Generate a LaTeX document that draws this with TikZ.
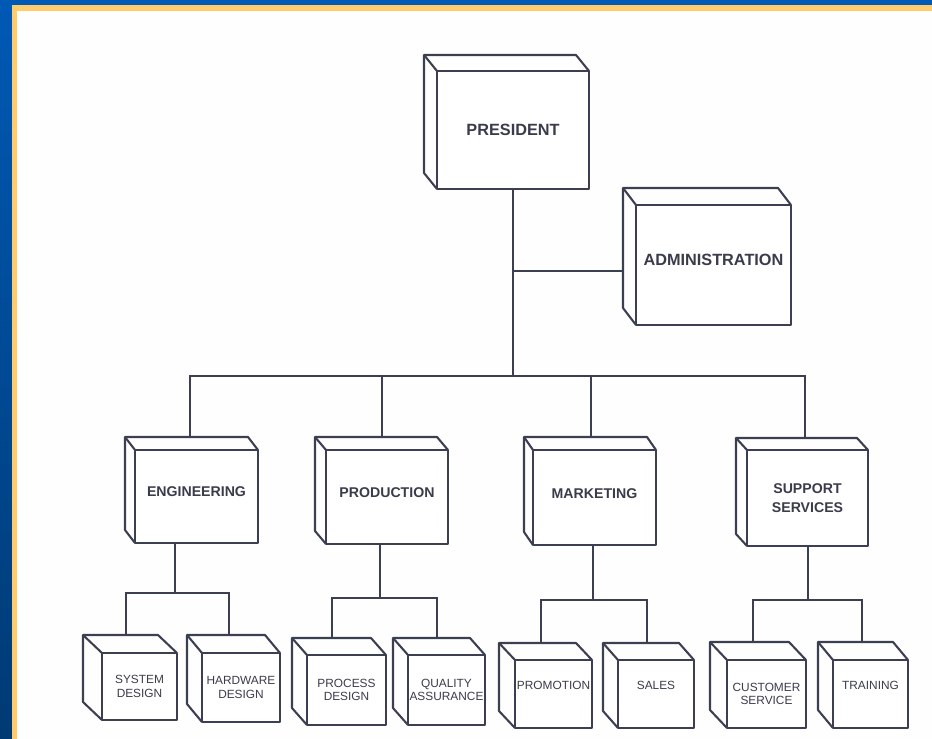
\documentclass[tikz,border=0pt]{standalone}
\usepackage{fontspec}
\setmainfont{Liberation Sans}
\usetikzlibrary{calc}
\definecolor{ink}{HTML}{3C3F52}
\definecolor{txt}{HTML}{3A3C4C}
\definecolor{bluetop}{HTML}{0059B5}
\definecolor{bluebot}{HTML}{003A73}
\definecolor{gold}{HTML}{FFCB6B}
\tikzset{
  boxline/.style={draw=ink, line width=1.55pt, line join=round},
  front/.style={boxline, fill=white, rectangle, inner sep=0pt, outer sep=0pt, align=center, text=txt},
  bigbox/.style={front, font=\bfseries\fontsize{12.2}{14}\selectfont},
  midbox/.style={front, font=\bfseries\fontsize{10.6}{12}\selectfont},
  smallbox/.style={front, font=\fontsize{8.9}{10}\selectfont},
  liftup/.style={text depth=#1},
  wire/.style={draw=ink, line width=1.55pt, line join=miter},
}
\newcommand\orgcube[9]{%
  \node[#8, minimum width={(#4-#2)*0.75pt}, minimum height={(#5-#3)*0.75pt}] (#1) at ({(#2+#4)/2},{(#3+#5)/2}) {#9};
  \draw[boxline] (#1.south west) -- ++(-#6,-#7) |- ($(#1.north east)+(-#6,-#7)$) -- (#1.north east);
  \draw[boxline] (#1.north west) -- ++(-#6,-#7);
}
\begin{document}
\begin{tikzpicture}[x=0.75pt,y=-0.75pt]
\useasboundingbox (0,0) rectangle (932,739);
\shade[top color=bluetop,bottom color=bluebot] (0,0) rectangle (932,739);
\fill[gold] (12,5) rectangle (932,739);
\fill[white!99!gray] (17,11) rectangle (932,739);

% top level
\orgcube{pres}{437}{71}{589}{189}{13}{16}{bigbox}{PRESIDENT}
\orgcube{adm}{636}{205}{791}{325}{13}{17}{bigbox,liftup=8pt}{ADMINISTRATION}

% middle level
\orgcube{eng}{135}{450}{258}{543}{10}{13}{midbox,liftup=7pt}{ENGINEERING}
\orgcube{prod}{326}{450}{448}{544}{11}{13}{midbox,liftup=6pt}{PRODUCTION}
\orgcube{mkt}{533}{450}{656}{545}{9}{13}{midbox,liftup=6pt}{MARKETING}
\orgcube{sup}{747}{450}{868}{546}{11}{12}{midbox}{SUPPORT\\[2pt]SERVICES}

% bottom level
\orgcube{sys}{102}{653}{177}{720}{19}{18}{smallbox}{SYSTEM\\DESIGN}
\orgcube{hw}{202}{653}{280}{722}{15}{18}{smallbox}{HARDWARE\\DESIGN}
\orgcube{proc}{307}{655}{386}{725}{15}{17}{smallbox}{PROCESS\\DESIGN}
\orgcube{qa}{408}{655}{485}{725}{15}{17}{smallbox}{QUALITY\\ASSURANCE}
\orgcube{promo}{515}{660}{592}{728}{16}{17}{smallbox,liftup=13.5pt}{PROMOTION}
\orgcube{sales}{618}{660}{694}{728}{15}{17}{smallbox,liftup=13.5pt}{SALES}
\orgcube{cs}{727}{660}{806}{728}{17}{18}{smallbox}{CUSTOMER\\SERVICE}
\orgcube{train}{833}{660}{908}{728}{15}{18}{smallbox,liftup=13pt}{TRAINING}

% connector points
\coordinate (trunk) at (513,376);
\coordinate (admj) at (513,271);
\coordinate (admL) at (623,271);
\coordinate (eng-t) at (190,437);
\coordinate (prod-t) at (382,437);
\coordinate (mkt-t) at (591,437);
\coordinate (sup-t) at (805,438);

\coordinate (engj) at (175,593);
\coordinate (sys-t) at (126,635);
\coordinate (hw-t) at (229,635);
\coordinate (prodj) at (380,598);
\coordinate (proc-t) at (332,638);
\coordinate (qa-t) at (437,638);
\coordinate (mktj) at (593,600);
\coordinate (promo-t) at (541,643);
\coordinate (sales-t) at (647,643);
\coordinate (supj) at (808,600);
\coordinate (cs-t) at (753,642);
\coordinate (train-t) at (862,642);

% connectors
\draw[wire] (pres.south) -- (trunk);
\draw[wire] (admj) -- (admL);
\draw[wire] (eng-t) |- (trunk) -| (sup-t);
\draw[wire] (prod-t) -- (prod-t |- trunk);
\draw[wire] (mkt-t) -- (mkt-t |- trunk);

\draw[wire] (engj |- eng.south) -- (engj);
\draw[wire] (sys-t) |- (engj) -| (hw-t);
\draw[wire] (prodj |- prod.south) -- (prodj);
\draw[wire] (proc-t) |- (prodj) -| (qa-t);
\draw[wire] (mktj |- mkt.south) -- (mktj);
\draw[wire] (promo-t) |- (mktj) -| (sales-t);
\draw[wire] (supj |- sup.south) -- (supj);
\draw[wire] (cs-t) |- (supj) -| (train-t);
\end{tikzpicture}
\end{document}
